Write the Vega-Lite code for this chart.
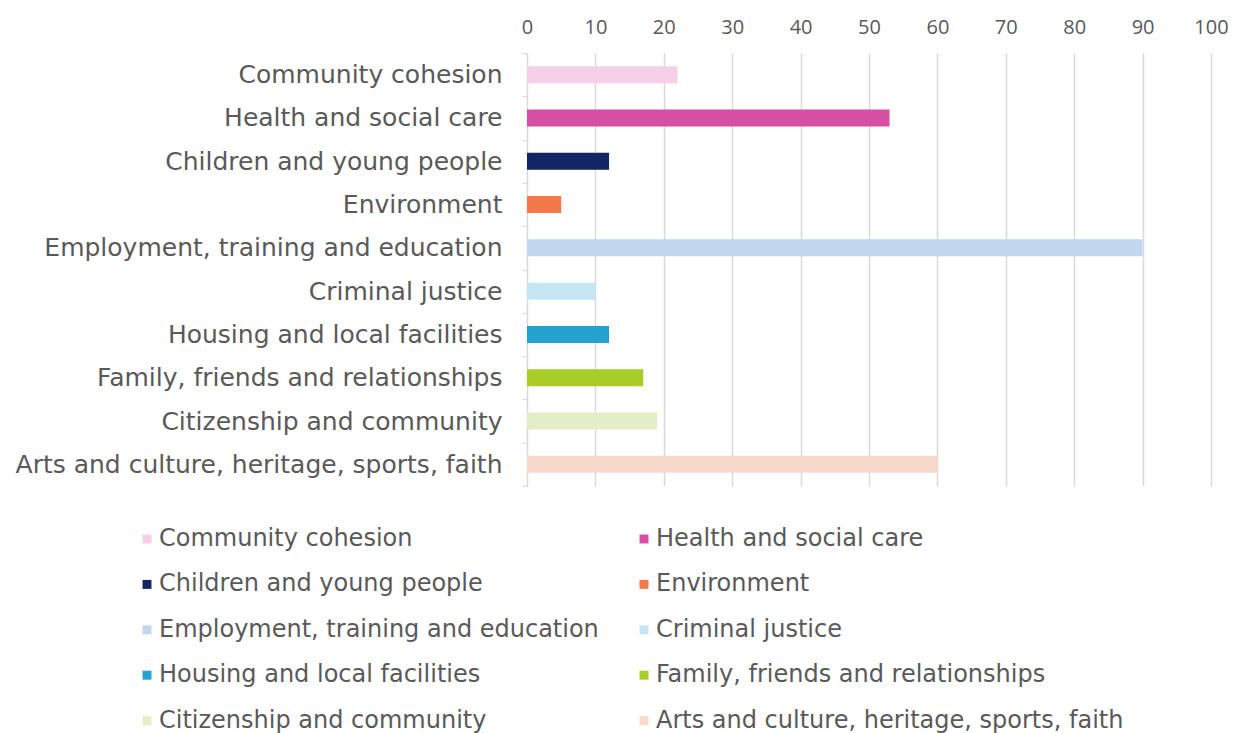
{
  "$schema": "https://vega.github.io/schema/vega-lite/v6.json",
  "width": 684,
  "height": 433,
  "autosize": {"type": "none"},
  "padding": {"left": 527, "top": 53, "right": 31, "bottom": 247},
  "background": "white",
  "config": {
    "font": "DejaVu Sans",
    "view": {"stroke": null}
  },
  "data": {
    "values": [
      {"area": "Community cohesion", "value": 22},
      {"area": "Health and social care", "value": 53},
      {"area": "Children and young people", "value": 12},
      {"area": "Environment", "value": 5},
      {"area": "Employment, training and education", "value": 90},
      {"area": "Criminal justice", "value": 10},
      {"area": "Housing and local facilities", "value": 12},
      {"area": "Family, friends and relationships", "value": 17},
      {"area": "Citizenship and community", "value": 19},
      {"area": "Arts and culture, heritage, sports, faith", "value": 60}
    ]
  },
  "mark": {"type": "bar", "size": 17},
  "encoding": {
    "y": {
      "field": "area",
      "type": "nominal",
      "sort": null,
      "title": null,
      "scale": {"paddingInner": 0, "paddingOuter": 0},
      "axis": {
        "tickBand": "extent",
        "tickSize": 5,
        "tickColor": "#D9D9D9",
        "domainColor": "#D9D9D9",
        "labelFontSize": 25,
        "labelColor": "#595959",
        "labelPadding": 20,
        "labelLimit": 600
      }
    },
    "x": {
      "field": "value",
      "type": "quantitative",
      "title": null,
      "scale": {"domain": [0, 100], "nice": false},
      "axis": {
        "orient": "top",
        "values": [0, 10, 20, 30, 40, 50, 60, 70, 80, 90, 100],
        "domain": false,
        "ticks": false,
        "grid": true,
        "gridColor": "#D9D9D9",
        "gridWidth": 1.5,
        "labelFont": "Open Sans",
        "labelFontSize": 20,
        "labelColor": "#595959",
        "labelPadding": 16,
        "labelFlush": false
      }
    },
    "color": {
      "field": "area",
      "type": "nominal",
      "sort": null,
      "title": null,
      "scale": {
        "domain": ["Community cohesion", "Health and social care", "Children and young people", "Environment", "Employment, training and education", "Criminal justice", "Housing and local facilities", "Family, friends and relationships", "Citizenship and community", "Arts and culture, heritage, sports, faith"],
        "range": ["#F6CFE6", "#D64FA2", "#112663", "#F27A48", "#C3D6F0", "#C4E6F2", "#24A3D0", "#A8CC28", "#E3EDC6", "#F8D9CB"]
      },
      "legend": {
        "orient": "none",
        "direction": "horizontal",
        "legendX": -392,
        "legendY": 474,
        "columns": 2,
        "columnPadding": 33,
        "rowPadding": 21.4,
        "symbolType": "square",
        "symbolSize": 80,
        "symbolStrokeWidth": 0,
        "labelFontSize": 24,
        "labelColor": "#595959",
        "labelLimit": 600,
        "labelOffset": 0
      }
    }
  }
}
